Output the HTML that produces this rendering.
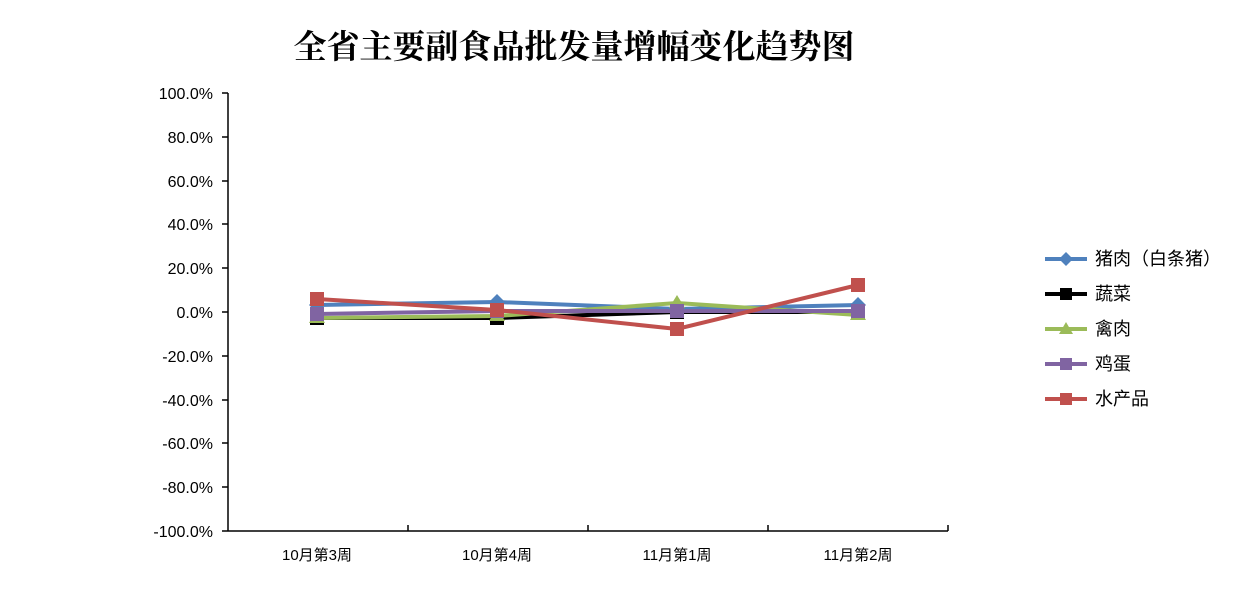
<!DOCTYPE html><html><head><meta charset="utf-8"><style>body{margin:0;background:#fff}svg{display:block}text{font-family:"Liberation Sans","Noto Sans CJK SC",sans-serif}</style></head><body>
<svg width="1252" height="590" xmlns="http://www.w3.org/2000/svg">
<text x="574" y="58" text-anchor="middle" font-size="33" font-weight="bold" style="font-family:'Noto Serif CJK SC',serif">全省主要副食品批发量增幅变化趋势图</text>
<g stroke="#000" stroke-width="1.5">
<line x1="228" y1="93" x2="228" y2="531"/><line x1="228" y1="531" x2="948" y2="531"/>
<line x1="222" y1="93" x2="228" y2="93"/><line x1="222" y1="137" x2="228" y2="137"/><line x1="222" y1="181" x2="228" y2="181"/><line x1="222" y1="224" x2="228" y2="224"/><line x1="222" y1="268" x2="228" y2="268"/><line x1="222" y1="312" x2="228" y2="312"/><line x1="222" y1="356" x2="228" y2="356"/><line x1="222" y1="400" x2="228" y2="400"/><line x1="222" y1="443" x2="228" y2="443"/><line x1="222" y1="487" x2="228" y2="487"/><line x1="222" y1="531" x2="228" y2="531"/>
<line x1="408" y1="525" x2="408" y2="531"/><line x1="588" y1="525" x2="588" y2="531"/><line x1="768" y1="525" x2="768" y2="531"/><line x1="948" y1="525" x2="948" y2="531"/>
</g>
<g font-size="16" text-anchor="end">
<text x="213" y="99">100.0%</text><text x="213" y="143">80.0%</text><text x="213" y="187">60.0%</text><text x="213" y="230">40.0%</text><text x="213" y="274">20.0%</text><text x="213" y="318">0.0%</text><text x="213" y="362">-20.0%</text><text x="213" y="406">-40.0%</text><text x="213" y="449">-60.0%</text><text x="213" y="493">-80.0%</text><text x="213" y="537">-100.0%</text>
</g>
<g font-size="15" text-anchor="middle"><text x="317" y="560">10月第3周</text><text x="497" y="560">10月第4周</text><text x="677" y="560">11月第1周</text><text x="858" y="560">11月第2周</text></g>
<g fill="none" stroke-width="4">
<polyline stroke="#000" points="317,318 497,318 677,312 858,312"/>
<polyline stroke="#4f81bd" points="317,305 497,302 677,309 858,305"/>
<polyline stroke="#9bbb59" points="317,318 497,316 677,303 858,315"/>
<polyline stroke="#8064a2" points="317,314 497,311 677,311 858,311"/>
<polyline stroke="#c0504d" points="317,299 497,310 677,329 858,285"/>
</g>
<g fill="#000"><rect x="310" y="311" width="14" height="14"/><rect x="490" y="311" width="14" height="14"/><rect x="670" y="305" width="14" height="14"/><rect x="851" y="305" width="14" height="14"/></g>
<g fill="#4f81bd"><path d="M317,297l8,8-8,8-8-8z"/><path d="M497,294l8,8-8,8-8-8z"/><path d="M677,301l8,8-8,8-8-8z"/><path d="M858,297l8,8-8,8-8-8z"/></g>
<g fill="#9bbb59"><path d="M317,310l8,13h-16z"/><path d="M497,308l8,13h-16z"/><path d="M677,295l8,13h-16z"/><path d="M858,307l8,13h-16z"/></g>
<g fill="#8064a2"><rect x="310" y="307" width="14" height="14"/><rect x="490" y="304" width="14" height="14"/><rect x="670" y="304" width="14" height="14"/><rect x="851" y="304" width="14" height="14"/></g>
<g fill="#c0504d"><rect x="310" y="292" width="14" height="14"/><rect x="490" y="303" width="14" height="14"/><rect x="670" y="322" width="14" height="14"/><rect x="851" y="278" width="14" height="14"/></g>
<g stroke-width="4">
<line x1="1045" y1="259" x2="1087" y2="259" stroke="#4f81bd"/><path d="M1066,252l7,7-7,7-7-7z" fill="#4f81bd"/>
<line x1="1045" y1="294" x2="1087" y2="294" stroke="#000"/><rect x="1060" y="288" width="12" height="12" fill="#000"/>
<line x1="1045" y1="329" x2="1087" y2="329" stroke="#9bbb59"/><path d="M1066,322l7,12h-14z" fill="#9bbb59"/>
<line x1="1045" y1="364" x2="1087" y2="364" stroke="#8064a2"/><rect x="1060" y="358" width="12" height="12" fill="#8064a2"/>
<line x1="1045" y1="399" x2="1087" y2="399" stroke="#c0504d"/><rect x="1060" y="393" width="12" height="12" fill="#c0504d"/>
</g>
<g font-size="18"><text x="1095" y="265">猪肉（白条猪）</text><text x="1095" y="300">蔬菜</text><text x="1095" y="335">禽肉</text><text x="1095" y="370">鸡蛋</text><text x="1095" y="405">水产品</text></g>
</svg></body></html>
